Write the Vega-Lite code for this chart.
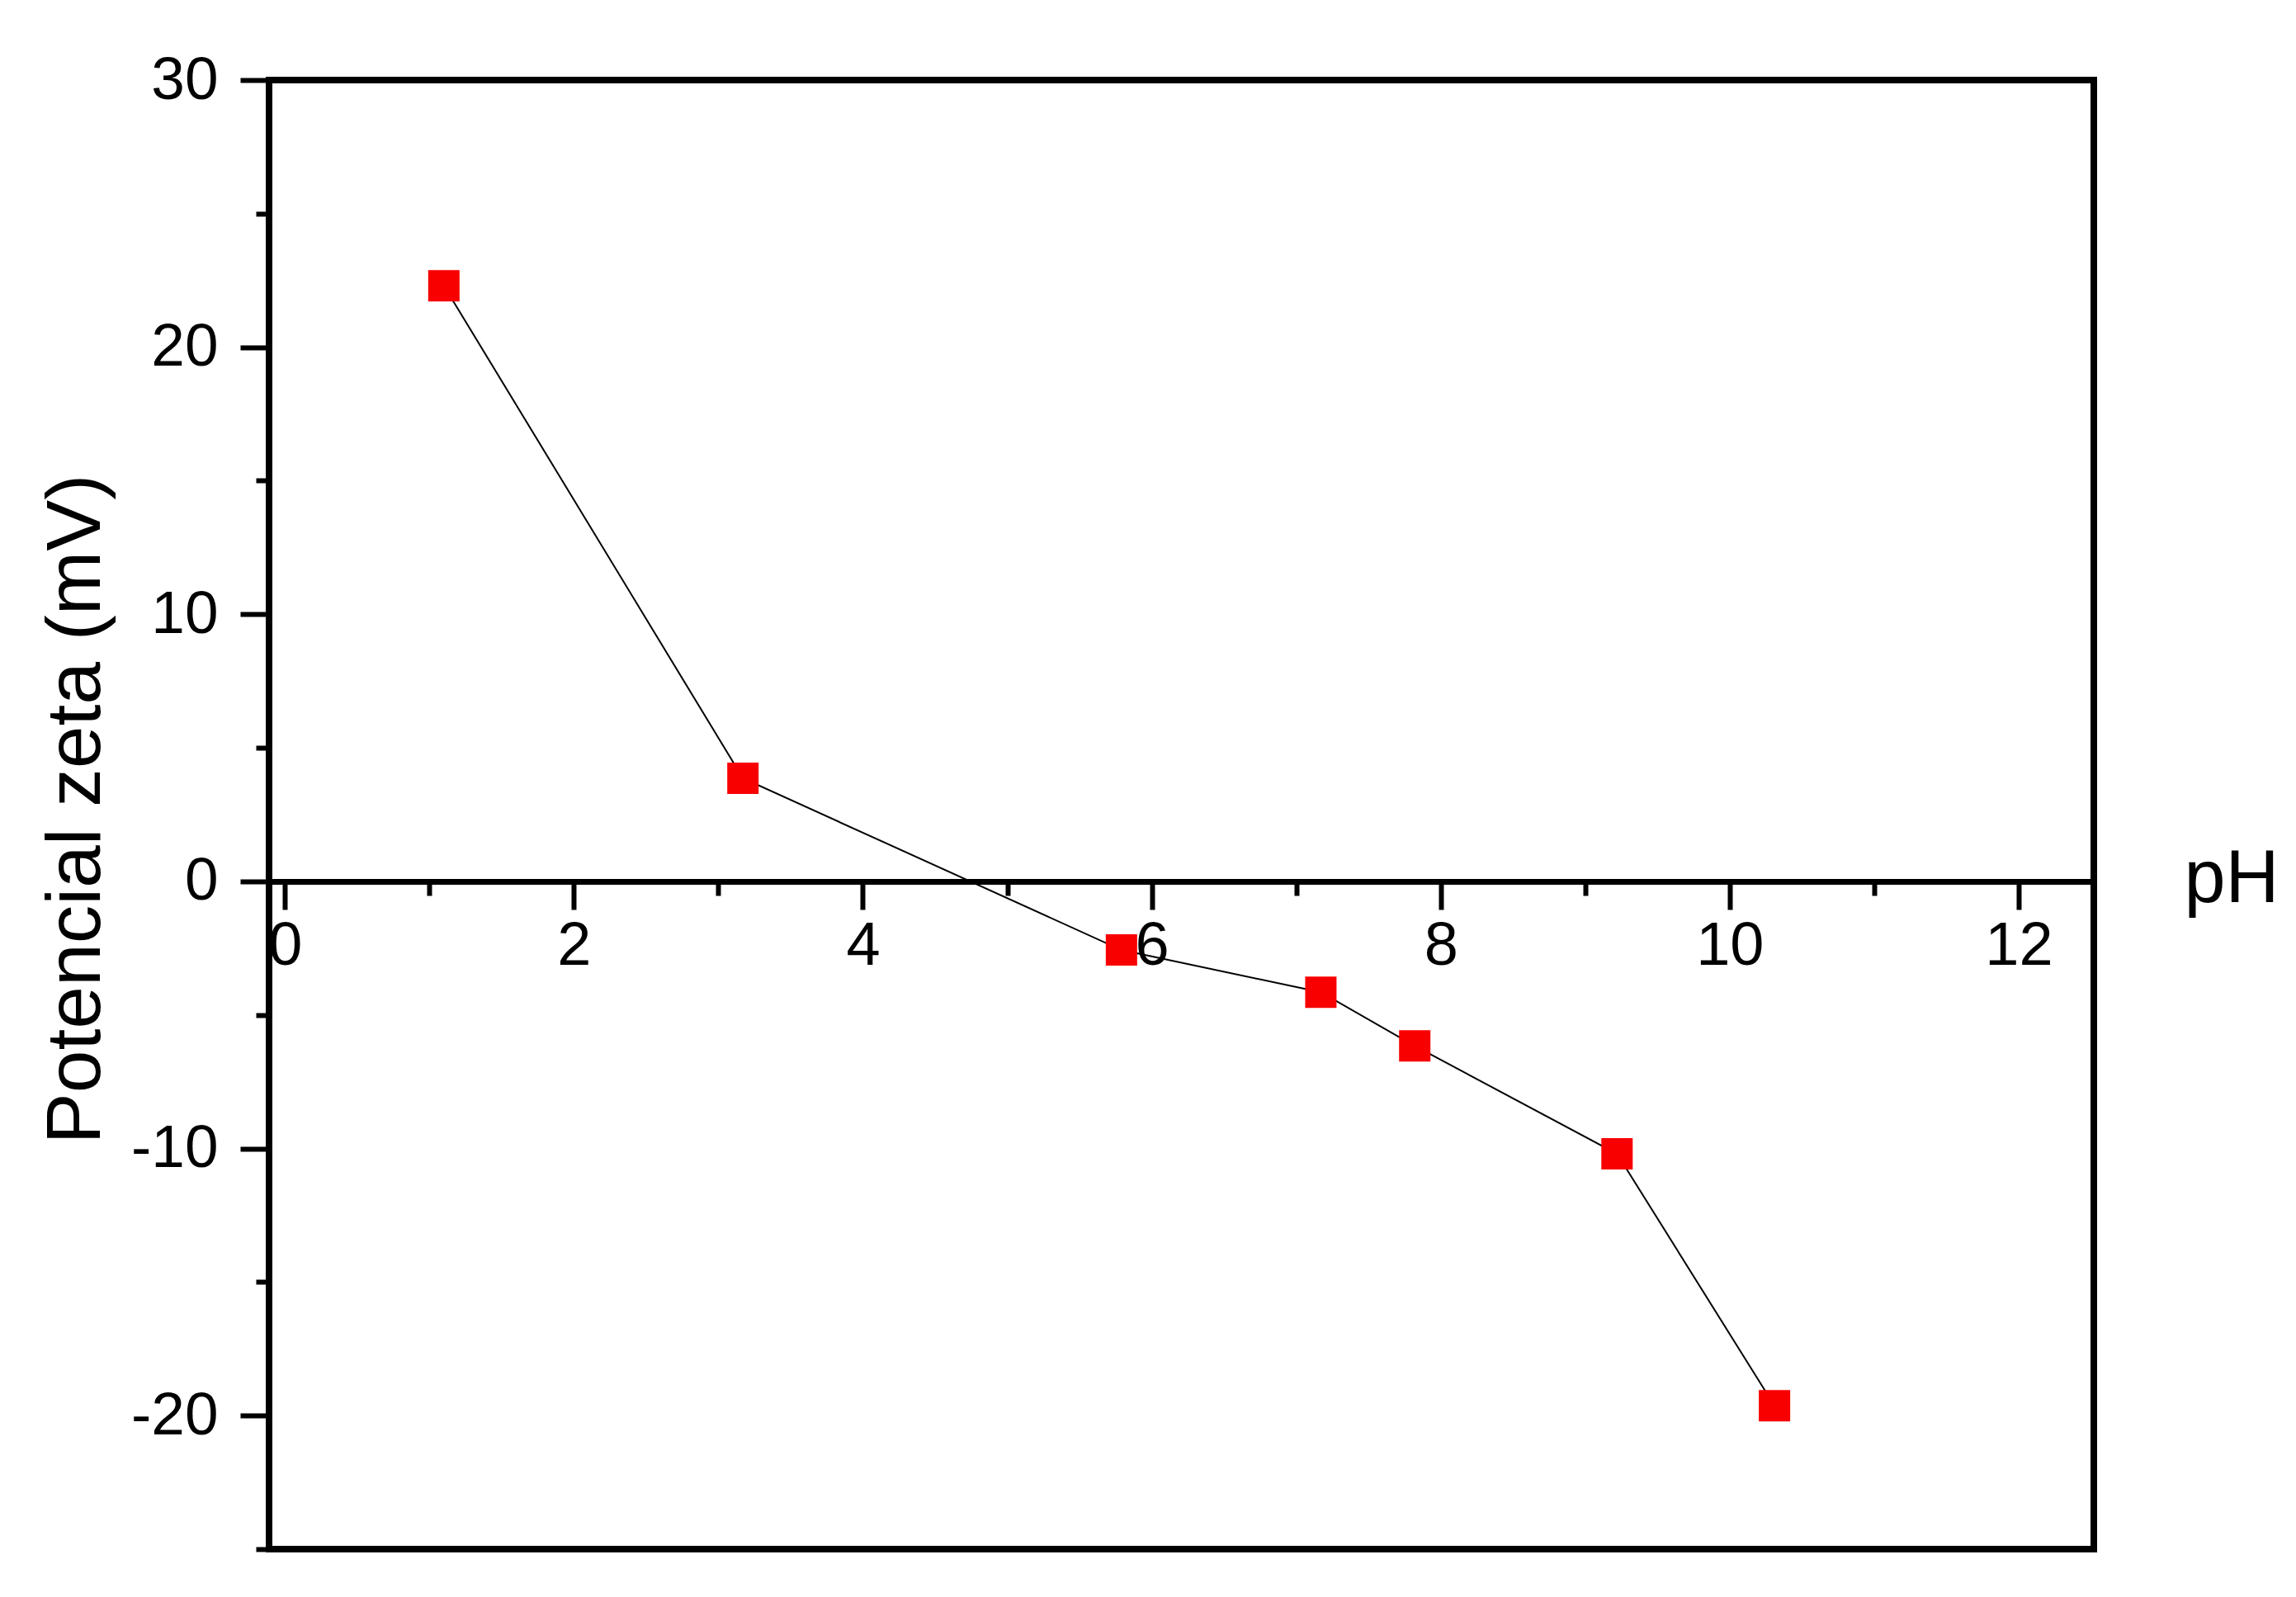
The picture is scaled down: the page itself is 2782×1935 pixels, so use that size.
{
  "$schema": "https://vega.github.io/schema/vega-lite/v6.json",
  "autosize": "none",
  "padding": {"left": 326, "top": 97, "right": 245, "bottom": 58},
  "width": 2211,
  "height": 1780,
  "background": "white",
  "config": {
    "view": {"stroke": "black", "strokeWidth": 8},
    "font": "Liberation Sans"
  },
  "data": {
    "values": [
      {"pH": 1.10, "zeta": 22.3},
      {"pH": 3.17, "zeta": 3.86},
      {"pH": 5.79, "zeta": -2.57},
      {"pH": 7.17, "zeta": -4.15},
      {"pH": 7.82, "zeta": -6.16},
      {"pH": 9.22, "zeta": -10.2},
      {"pH": 10.31, "zeta": -19.63}
    ]
  },
  "encoding": {
    "x": {
      "field": "pH",
      "type": "quantitative",
      "scale": {"domain": [-0.11, 12.52], "nice": false, "zero": false},
      "axis": {
        "title": "pH",
        "orient": "bottom",
        "offset": -809,
        "values": [0,1,2,3,4,5,6,7,8,9,10,11,12],
        "grid": false,
        "domain": true,
        "domainColor": "black",
        "domainWidth": 7,
        "tickColor": "black",
        "tickWidth": 6,
        "tickSize": {"condition": {"test": "datum.value % 2 === 0", "value": 34}, "value": 17},
        "labelExpr": "datum.value % 2 === 0 ? toString(datum.value) : ''",
        "labelFont": "Liberation Sans Narrow, Liberation Sans",
        "labelFontSize": 74,
        "labelColor": "black",
        "labelPadding": 8,
        "labelFlush": false,
        "labelOverlap": false,
        "titleFont": "Liberation Sans",
        "titleFontSize": 90,
        "titleFontWeight": "normal",
        "titleColor": "black",
        "titleAngle": 0,
        "titleAlign": "left",
        "titleBaseline": "alphabetic",
        "titleX": 2320,
        "titleY": 24
      }
    },
    "y": {
      "field": "zeta",
      "type": "quantitative",
      "scale": {"domain": [-25, 30], "nice": false, "zero": false},
      "axis": {
        "title": "Potencial zeta (mV)",
        "values": [-25,-20,-15,-10,-5,0,5,10,15,20,25,30],
        "grid": false,
        "domain": false,
        "tickColor": "black",
        "tickWidth": 6,
        "tickSize": {"condition": {"test": "datum.value % 10 === 0", "value": 35}, "value": 16},
        "labelExpr": "datum.value % 10 === 0 ? toString(datum.value) : ''",
        "labelFontSize": 73,
        "labelColor": "black",
        "labelPadding": 27,
        "labelFlush": false,
        "labelOverlap": false,
        "titleFontSize": 93,
        "titleFontWeight": "normal",
        "titleColor": "black",
        "titleAngle": -90,
        "titleAlign": "center",
        "titleBaseline": "alphabetic",
        "titleX": -206,
        "titleY": 883
      }
    }
  },
  "layer": [
    {
      "mark": {"type": "line", "color": "black", "strokeWidth": 2}
    },
    {
      "mark": {"type": "point", "shape": "square", "filled": true, "size": 1444, "color": "#f80000", "opacity": 1}
    }
  ]
}
